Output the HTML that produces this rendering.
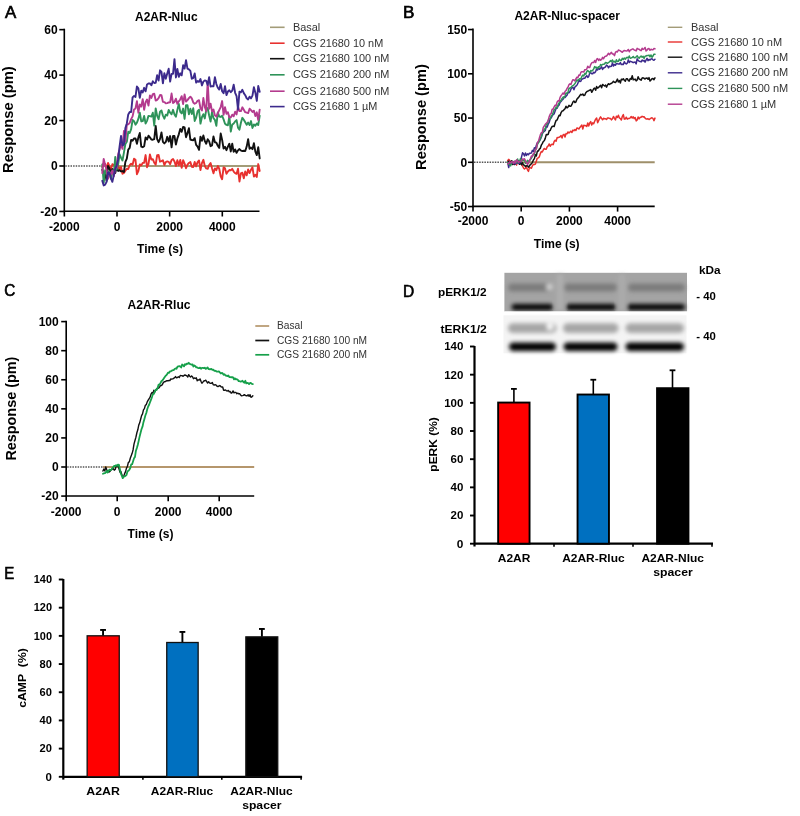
<!DOCTYPE html>
<html><head><meta charset="utf-8"><title>Figure</title>
<style>
html,body{margin:0;padding:0;background:#fff;}
body{width:800px;height:816px;position:relative;overflow:hidden;font-family:"Liberation Sans", sans-serif;}
</style></head><body>
<svg width="800" height="816" viewBox="0 0 800 816" style="position:absolute;left:0;top:0;will-change:transform">
<g font-family="Liberation Sans">
<text x="5.00" y="17.90" font-size="16" font-weight="normal" text-anchor="start" fill="#000" textLength="11.20" lengthAdjust="spacingAndGlyphs" stroke="#000" stroke-width="0.65">A</text>
<text x="166.30" y="20.50" font-size="12" font-weight="bold" text-anchor="middle" fill="#000" textLength="62.50" lengthAdjust="spacingAndGlyphs" >A2AR-Nluc</text>
<text x="12.70" y="119.60" font-size="14" font-weight="bold" text-anchor="middle" fill="#000" textLength="106.60" lengthAdjust="spacingAndGlyphs" transform="rotate(-90 12.70 119.60)" >Response (pm)</text>
<line x1="64.30" y1="28.70" x2="64.30" y2="212.10" stroke="#000" stroke-width="1.6" />
<line x1="63.50" y1="211.30" x2="259.50" y2="211.30" stroke="#000" stroke-width="1.6" />
<line x1="59.30" y1="29.65" x2="64.30" y2="29.65" stroke="#000" stroke-width="1.6" />
<text x="57.60" y="33.95" font-size="12" font-weight="bold" text-anchor="end" fill="#000" >60</text>
<line x1="59.30" y1="75.10" x2="64.30" y2="75.10" stroke="#000" stroke-width="1.6" />
<text x="57.60" y="79.40" font-size="12" font-weight="bold" text-anchor="end" fill="#000" >40</text>
<line x1="59.30" y1="120.55" x2="64.30" y2="120.55" stroke="#000" stroke-width="1.6" />
<text x="57.60" y="124.85" font-size="12" font-weight="bold" text-anchor="end" fill="#000" >20</text>
<line x1="59.30" y1="166.00" x2="64.30" y2="166.00" stroke="#000" stroke-width="1.6" />
<text x="57.60" y="170.30" font-size="12" font-weight="bold" text-anchor="end" fill="#000" >0</text>
<line x1="59.30" y1="211.45" x2="64.30" y2="211.45" stroke="#000" stroke-width="1.6" />
<text x="57.60" y="215.75" font-size="12" font-weight="bold" text-anchor="end" fill="#000" >-20</text>
<line x1="64.35" y1="211.30" x2="64.35" y2="216.50" stroke="#000" stroke-width="1.6" />
<text x="64.35" y="231.00" font-size="12" font-weight="bold" text-anchor="middle" fill="#000" >-2000</text>
<line x1="117.00" y1="211.30" x2="117.00" y2="216.50" stroke="#000" stroke-width="1.6" />
<text x="117.00" y="231.00" font-size="12" font-weight="bold" text-anchor="middle" fill="#000" >0</text>
<line x1="169.65" y1="211.30" x2="169.65" y2="216.50" stroke="#000" stroke-width="1.6" />
<text x="169.65" y="231.00" font-size="12" font-weight="bold" text-anchor="middle" fill="#000" >2000</text>
<line x1="222.30" y1="211.30" x2="222.30" y2="216.50" stroke="#000" stroke-width="1.6" />
<text x="222.30" y="231.00" font-size="12" font-weight="bold" text-anchor="middle" fill="#000" >4000</text>
<text x="160.00" y="253.00" font-size="12" font-weight="bold" text-anchor="middle" fill="#000" >Time (s)</text>
<line x1="65.30" y1="166.00" x2="102.26" y2="166.00" stroke="#555" stroke-width="1.4" stroke-dasharray="1.5,1.1"/>
<line x1="102.26" y1="166.00" x2="259.50" y2="166.00" stroke="#a39c78" stroke-width="1.8" />
<polyline points="102.26,166.94 103.70,163.54 105.15,163.88 106.59,168.97 108.04,162.93 109.48,166.33 110.92,169.30 112.37,164.15 113.81,165.03 115.26,166.13 116.70,167.99 118.14,165.50 119.59,169.63 121.03,166.96 122.48,173.80 123.92,172.88 125.37,170.68 126.81,168.72 128.25,168.94 129.70,165.25 131.14,163.70 132.59,164.79 134.03,158.73 135.48,159.84 136.92,174.20 138.36,171.03 139.81,164.40 141.25,165.36 142.70,162.90 144.14,162.71 145.59,155.06 147.03,167.22 148.47,164.08 149.92,154.41 151.36,159.49 152.81,159.12 154.25,162.76 155.70,164.64 157.14,155.14 158.58,155.02 160.03,161.68 161.47,161.08 162.92,160.21 164.36,165.08 165.81,162.01 167.25,161.44 168.69,161.85 170.14,164.12 171.58,160.05 173.03,159.08 174.47,161.46 175.91,166.04 177.36,160.23 178.80,165.17 180.25,160.01 181.69,167.73 183.14,160.17 184.58,163.65 186.02,168.27 187.47,164.54 188.91,162.99 190.36,162.02 191.80,166.75 193.25,167.10 194.69,161.93 196.13,166.39 197.58,162.10 199.02,160.45 200.47,170.12 201.91,163.15 203.36,159.77 204.80,166.03 206.24,168.38 207.69,168.81 209.13,165.02 210.58,163.04 212.02,168.33 213.47,173.22 214.91,168.42 216.35,170.21 217.80,166.00 219.24,168.74 220.69,176.29 222.13,179.23 223.58,167.35 225.02,168.39 226.46,173.74 227.91,171.52 229.35,170.04 230.80,170.20 232.24,168.88 233.68,171.52 235.13,173.13 236.57,173.82 238.02,168.74 239.46,181.51 240.91,173.35 242.35,172.69 243.79,178.32 245.24,171.53 246.68,175.33 248.13,169.49 249.57,173.11 251.02,169.74 252.46,167.32 253.90,176.57 255.35,174.82 256.79,176.99 258.24,164.07 259.68,170.97" fill="none" stroke="#e8312f" stroke-width="1.9" stroke-linejoin="round" stroke-linecap="round"/>
<polyline points="102.26,169.86 103.70,172.93 105.15,173.01 106.59,180.86 108.04,165.92 109.48,168.55 110.92,173.48 112.37,169.06 113.81,170.44 115.26,173.06 116.70,167.08 118.14,171.02 119.59,170.25 121.03,171.40 122.48,171.07 123.92,172.02 125.37,161.81 126.81,158.71 128.25,149.55 129.70,147.78 131.14,139.87 132.59,140.65 134.03,138.53 135.48,138.35 136.92,143.73 138.36,137.42 139.81,133.00 141.25,146.65 142.70,147.20 144.14,146.26 145.59,137.36 147.03,139.58 148.47,135.75 149.92,137.36 151.36,139.59 152.81,139.70 154.25,139.06 155.70,125.93 157.14,139.11 158.58,142.22 160.03,138.91 161.47,132.35 162.92,141.84 164.36,143.40 165.81,141.94 167.25,136.79 168.69,141.58 170.14,136.07 171.58,147.33 173.03,136.07 174.47,136.05 175.91,144.62 177.36,138.54 178.80,134.32 180.25,129.02 181.69,131.81 183.14,126.86 184.58,127.39 186.02,137.20 187.47,133.15 188.91,128.15 190.36,139.51 191.80,140.01 193.25,140.31 194.69,138.14 196.13,144.88 197.58,146.57 199.02,149.85 200.47,136.64 201.91,140.73 203.36,135.51 204.80,141.04 206.24,143.70 207.69,139.26 209.13,141.28 210.58,146.18 212.02,145.47 213.47,136.45 214.91,142.21 216.35,142.60 217.80,145.75 219.24,147.87 220.69,133.51 222.13,139.92 223.58,148.58 225.02,146.82 226.46,150.15 227.91,146.68 229.35,143.79 230.80,151.45 232.24,143.74 233.68,151.88 235.13,149.41 236.57,152.89 238.02,150.35 239.46,149.06 240.91,150.50 242.35,151.16 243.79,150.76 245.24,150.97 246.68,146.57 248.13,139.26 249.57,148.82 251.02,147.59 252.46,149.17 253.90,143.21 255.35,151.61 256.79,155.05 258.24,147.21 259.68,158.45" fill="none" stroke="#111111" stroke-width="1.9" stroke-linejoin="round" stroke-linecap="round"/>
<polyline points="102.26,164.47 103.70,182.79 105.15,170.15 106.59,173.70 108.04,172.75 109.48,171.43 110.92,178.81 112.37,171.49 113.81,174.08 115.26,156.95 116.70,169.62 118.14,164.28 119.59,154.26 121.03,157.73 122.48,160.47 123.92,152.65 125.37,143.97 126.81,141.81 128.25,131.80 129.70,132.97 131.14,129.15 132.59,120.02 134.03,121.21 135.48,124.65 136.92,122.61 138.36,118.92 139.81,112.60 141.25,121.44 142.70,121.16 144.14,115.90 145.59,123.45 147.03,120.84 148.47,115.87 149.92,116.10 151.36,116.61 152.81,112.75 154.25,125.57 155.70,108.33 157.14,115.83 158.58,119.20 160.03,111.72 161.47,110.46 162.92,115.62 164.36,118.67 165.81,114.64 167.25,115.43 168.69,109.94 170.14,112.71 171.58,114.28 173.03,109.83 174.47,114.52 175.91,116.76 177.36,109.89 178.80,103.85 180.25,111.76 181.69,113.39 183.14,108.54 184.58,118.93 186.02,105.16 187.47,105.22 188.91,114.34 190.36,108.63 191.80,114.07 193.25,108.28 194.69,120.94 196.13,117.51 197.58,111.23 199.02,109.75 200.47,123.67 201.91,117.23 203.36,114.21 204.80,118.40 206.24,109.76 207.69,108.04 209.13,115.53 210.58,121.62 212.02,111.94 213.47,118.13 214.91,119.94 216.35,125.84 217.80,112.34 219.24,116.54 220.69,116.93 222.13,115.76 223.58,119.38 225.02,123.83 226.46,124.88 227.91,125.21 229.35,116.41 230.80,131.56 232.24,124.62 233.68,123.58 235.13,121.43 236.57,120.08 238.02,127.62 239.46,129.67 240.91,122.70 242.35,117.80 243.79,119.82 245.24,122.33 246.68,124.81 248.13,122.62 249.57,125.12 251.02,121.08 252.46,127.97 253.90,124.48 255.35,125.78 256.79,123.41 258.24,125.01 259.68,115.80" fill="none" stroke="#2e9359" stroke-width="1.9" stroke-linejoin="round" stroke-linecap="round"/>
<polyline points="102.26,173.06 103.70,158.86 105.15,165.08 106.59,169.44 108.04,178.80 109.48,172.62 110.92,174.18 112.37,170.36 113.81,176.32 115.26,168.34 116.70,167.54 118.14,154.38 119.59,149.40 121.03,143.88 122.48,148.87 123.92,131.00 125.37,141.57 126.81,124.39 128.25,124.39 129.70,122.87 131.14,119.17 132.59,116.39 134.03,109.48 135.48,108.54 136.92,101.12 138.36,112.69 139.81,104.41 141.25,106.62 142.70,99.16 144.14,109.75 145.59,102.30 147.03,99.56 148.47,105.51 149.92,95.37 151.36,97.89 152.81,94.09 154.25,93.68 155.70,100.57 157.14,99.81 158.58,98.12 160.03,95.04 161.47,95.24 162.92,101.87 164.36,102.07 165.81,103.40 167.25,103.18 168.69,102.44 170.14,102.32 171.58,93.53 173.03,103.11 174.47,101.95 175.91,98.74 177.36,103.87 178.80,101.29 180.25,99.49 181.69,96.22 183.14,104.17 184.58,94.36 186.02,101.60 187.47,100.16 188.91,98.11 190.36,96.64 191.80,98.44 193.25,102.44 194.69,103.75 196.13,103.00 197.58,100.82 199.02,100.25 200.47,108.29 201.91,110.52 203.36,98.06 204.80,106.89 206.24,111.28 207.69,81.65 209.13,108.71 210.58,103.69 212.02,111.35 213.47,109.46 214.91,115.37 216.35,116.55 217.80,113.27 219.24,110.12 220.69,107.06 222.13,101.09 223.58,114.78 225.02,107.22 226.46,113.77 227.91,112.28 229.35,117.41 230.80,117.40 232.24,114.69 233.68,116.30 235.13,111.70 236.57,114.40 238.02,106.86 239.46,111.10 240.91,111.05 242.35,107.29 243.79,109.77 245.24,112.20 246.68,112.69 248.13,113.08 249.57,108.74 251.02,110.15 252.46,112.05 253.90,110.66 255.35,116.13 256.79,112.33 258.24,120.04 259.68,109.66" fill="none" stroke="#b43b8e" stroke-width="1.9" stroke-linejoin="round" stroke-linecap="round"/>
<polyline points="102.26,180.83 103.70,185.42 105.15,184.61 106.59,181.84 108.04,172.52 109.48,172.99 110.92,178.35 112.37,181.84 113.81,175.09 115.26,168.77 116.70,165.35 118.14,159.69 119.59,146.34 121.03,135.97 122.48,145.57 123.92,144.57 125.37,128.10 126.81,123.41 128.25,114.45 129.70,112.03 131.14,112.00 132.59,97.37 134.03,96.05 135.48,96.95 136.92,86.45 138.36,88.38 139.81,97.84 141.25,90.64 142.70,92.53 144.14,87.79 145.59,91.36 147.03,84.45 148.47,83.46 149.92,83.35 151.36,85.31 152.81,81.25 154.25,83.00 155.70,82.89 157.14,75.14 158.58,80.54 160.03,70.33 161.47,71.93 162.92,83.29 164.36,73.13 165.81,78.70 167.25,73.44 168.69,68.77 170.14,81.56 171.58,73.83 173.03,73.77 174.47,59.08 175.91,77.46 177.36,69.01 178.80,76.79 180.25,73.32 181.69,75.36 183.14,65.18 184.58,68.63 186.02,60.24 187.47,68.57 188.91,69.29 190.36,70.92 191.80,78.77 193.25,78.05 194.69,73.52 196.13,82.67 197.58,81.06 199.02,81.87 200.47,79.06 201.91,85.41 203.36,81.61 204.80,80.35 206.24,80.86 207.69,84.94 209.13,77.24 210.58,86.62 212.02,86.10 213.47,86.35 214.91,77.27 216.35,84.06 217.80,87.76 219.24,89.53 220.69,83.87 222.13,91.30 223.58,93.30 225.02,86.22 226.46,95.09 227.91,91.56 229.35,90.27 230.80,92.24 232.24,90.63 233.68,84.69 235.13,92.78 236.57,96.06 238.02,109.44 239.46,91.66 240.91,92.38 242.35,89.79 243.79,93.14 245.24,95.20 246.68,98.25 248.13,99.38 249.57,96.70 251.02,98.38 252.46,95.65 253.90,87.22 255.35,92.70 256.79,100.92 258.24,85.97 259.68,91.78" fill="none" stroke="#3c2a8c" stroke-width="1.9" stroke-linejoin="round" stroke-linecap="round"/>
<line x1="270.00" y1="27.30" x2="284.60" y2="27.30" stroke="#a39c78" stroke-width="1.6" />
<text x="293.00" y="30.80" font-size="10.9" font-weight="normal" text-anchor="start" fill="#333" >Basal</text>
<line x1="270.00" y1="43.20" x2="284.60" y2="43.20" stroke="#e8312f" stroke-width="1.6" />
<text x="293.00" y="46.70" font-size="10.9" font-weight="normal" text-anchor="start" fill="#333" >CGS 21680 10 nM</text>
<line x1="270.00" y1="58.70" x2="284.60" y2="58.70" stroke="#111111" stroke-width="1.6" />
<text x="293.00" y="62.20" font-size="10.9" font-weight="normal" text-anchor="start" fill="#333" >CGS 21680 100 nM</text>
<line x1="270.00" y1="74.80" x2="284.60" y2="74.80" stroke="#2e9359" stroke-width="1.6" />
<text x="293.00" y="78.30" font-size="10.9" font-weight="normal" text-anchor="start" fill="#333" >CGS 21680 200 nM</text>
<line x1="270.00" y1="91.20" x2="284.60" y2="91.20" stroke="#b43b8e" stroke-width="1.6" />
<text x="293.00" y="94.70" font-size="10.9" font-weight="normal" text-anchor="start" fill="#333" >CGS 21680 500 nM</text>
<line x1="270.00" y1="106.60" x2="284.60" y2="106.60" stroke="#3c2a8c" stroke-width="1.6" />
<text x="293.00" y="110.10" font-size="10.9" font-weight="normal" text-anchor="start" fill="#333" >CGS 21680 1 &#181;M</text>
<text x="403.00" y="17.80" font-size="16" font-weight="normal" text-anchor="start" fill="#000" textLength="11.40" lengthAdjust="spacingAndGlyphs" stroke="#000" stroke-width="0.65">B</text>
<text x="567.20" y="20.00" font-size="12" font-weight="bold" text-anchor="middle" fill="#000" textLength="105.60" lengthAdjust="spacingAndGlyphs" >A2AR-Nluc-spacer</text>
<text x="426.50" y="117.05" font-size="13.8" font-weight="bold" text-anchor="middle" fill="#000" textLength="105.70" lengthAdjust="spacingAndGlyphs" transform="rotate(-90 426.50 117.05)" >Response (pm)</text>
<line x1="473.00" y1="28.50" x2="473.00" y2="207.20" stroke="#000" stroke-width="1.6" />
<line x1="472.20" y1="206.40" x2="654.70" y2="206.40" stroke="#000" stroke-width="1.6" />
<line x1="468.00" y1="29.55" x2="473.00" y2="29.55" stroke="#000" stroke-width="1.6" />
<text x="467.20" y="33.85" font-size="12" font-weight="bold" text-anchor="end" fill="#000" >150</text>
<line x1="468.00" y1="73.80" x2="473.00" y2="73.80" stroke="#000" stroke-width="1.6" />
<text x="467.20" y="78.10" font-size="12" font-weight="bold" text-anchor="end" fill="#000" >100</text>
<line x1="468.00" y1="118.05" x2="473.00" y2="118.05" stroke="#000" stroke-width="1.6" />
<text x="467.20" y="122.35" font-size="12" font-weight="bold" text-anchor="end" fill="#000" >50</text>
<line x1="468.00" y1="162.30" x2="473.00" y2="162.30" stroke="#000" stroke-width="1.6" />
<text x="467.20" y="166.60" font-size="12" font-weight="bold" text-anchor="end" fill="#000" >0</text>
<line x1="468.00" y1="206.55" x2="473.00" y2="206.55" stroke="#000" stroke-width="1.6" />
<text x="467.20" y="210.85" font-size="12" font-weight="bold" text-anchor="end" fill="#000" >-50</text>
<line x1="473.00" y1="206.40" x2="473.00" y2="211.60" stroke="#000" stroke-width="1.6" />
<text x="473.00" y="225.20" font-size="12" font-weight="bold" text-anchor="middle" fill="#000" >-2000</text>
<line x1="521.20" y1="206.40" x2="521.20" y2="211.60" stroke="#000" stroke-width="1.6" />
<text x="521.20" y="225.20" font-size="12" font-weight="bold" text-anchor="middle" fill="#000" >0</text>
<line x1="569.40" y1="206.40" x2="569.40" y2="211.60" stroke="#000" stroke-width="1.6" />
<text x="569.40" y="225.20" font-size="12" font-weight="bold" text-anchor="middle" fill="#000" >2000</text>
<line x1="617.60" y1="206.40" x2="617.60" y2="211.60" stroke="#000" stroke-width="1.6" />
<text x="617.60" y="225.20" font-size="12" font-weight="bold" text-anchor="middle" fill="#000" >4000</text>
<text x="556.70" y="247.50" font-size="12" font-weight="bold" text-anchor="middle" fill="#000" >Time (s)</text>
<line x1="474.00" y1="162.30" x2="507.70" y2="162.30" stroke="#555" stroke-width="1.4" stroke-dasharray="1.5,1.1"/>
<line x1="507.70" y1="162.30" x2="654.70" y2="162.30" stroke="#9e8f6a" stroke-width="1.9" />
<polyline points="507.70,160.48 508.69,159.38 509.68,160.22 510.67,163.05 511.66,163.01 512.65,163.56 513.63,162.35 514.62,163.14 515.61,161.89 516.60,165.15 517.59,160.44 518.57,162.47 519.56,161.68 520.55,163.13 521.54,164.56 522.53,165.98 523.52,168.04 524.50,168.99 525.49,168.20 526.48,167.04 527.47,169.83 528.46,171.36 529.45,167.61 530.43,167.82 531.42,168.27 532.41,165.72 533.40,164.41 534.39,164.52 535.38,164.06 536.36,160.98 537.35,158.11 538.34,157.88 539.33,156.83 540.32,153.60 541.30,151.52 542.29,151.99 543.28,149.99 544.27,148.44 545.26,149.22 546.25,149.14 547.23,146.72 548.22,145.97 549.21,143.95 550.20,146.25 551.19,144.69 552.18,144.20 553.16,144.67 554.15,141.47 555.14,140.21 556.13,141.17 557.12,137.62 558.11,137.64 559.09,137.18 560.08,136.81 561.07,135.53 562.06,138.02 563.05,134.89 564.03,134.37 565.02,136.97 566.01,133.62 567.00,133.86 567.99,131.95 568.98,133.03 569.96,132.03 570.95,131.18 571.94,132.44 572.93,130.12 573.92,130.69 574.91,129.53 575.89,130.52 576.88,128.02 577.87,128.30 578.86,128.97 579.85,127.46 580.84,126.17 581.82,125.01 582.81,129.03 583.80,125.31 584.79,125.41 585.78,125.70 586.76,126.46 587.75,123.00 588.74,125.89 589.73,123.03 590.72,121.62 591.71,125.04 592.69,122.88 593.68,123.78 594.67,121.28 595.66,119.16 596.65,118.05 597.64,122.66 598.62,120.63 599.61,118.49 600.60,116.90 601.59,118.31 602.58,119.79 603.57,118.33 604.55,118.68 605.54,118.85 606.53,119.48 607.52,117.92 608.51,117.96 609.49,118.41 610.48,118.51 611.47,119.85 612.46,118.72 613.45,116.45 614.44,118.30 615.42,119.96 616.41,116.28 617.40,117.35 618.39,115.25 619.38,117.97 620.37,118.66 621.35,119.97 622.34,116.29 623.33,114.64 624.32,119.14 625.31,118.91 626.30,117.26 627.28,119.15 628.27,118.41 629.26,118.51 630.25,117.80 631.24,116.60 632.22,118.02 633.21,116.83 634.20,118.61 635.19,117.61 636.18,120.89 637.17,119.97 638.15,116.99 639.14,118.83 640.13,117.28 641.12,117.33 642.11,116.29 643.10,116.97 644.08,116.70 645.07,118.20 646.06,118.98 647.05,119.02 648.04,118.70 649.03,119.55 650.01,118.78 651.00,118.17 651.99,117.72 652.98,118.50 653.97,120.60 654.96,118.15" fill="none" stroke="#e8312f" stroke-width="1.5" stroke-linejoin="round" stroke-linecap="round"/>
<polyline points="507.70,162.31 508.69,161.14 509.68,161.66 510.67,161.82 511.66,160.85 512.65,164.49 513.63,163.91 514.62,164.58 515.61,162.72 516.60,160.98 517.59,161.88 518.57,160.88 519.56,164.35 520.55,162.53 521.54,164.75 522.53,162.69 523.52,165.06 524.50,165.19 525.49,166.53 526.48,165.79 527.47,165.82 528.46,167.12 529.45,166.10 530.43,164.41 531.42,163.81 532.41,162.32 533.40,160.00 534.39,158.62 535.38,154.83 536.36,155.91 537.35,151.09 538.34,151.07 539.33,149.16 540.32,148.34 541.30,145.19 542.29,143.68 543.28,141.50 544.27,140.77 545.26,138.36 546.25,134.59 547.23,134.70 548.22,134.29 549.21,130.76 550.20,130.48 551.19,128.04 552.18,126.47 553.16,126.17 554.15,126.54 555.14,123.04 556.13,120.38 557.12,119.99 558.11,117.43 559.09,115.22 560.08,115.74 561.07,112.55 562.06,111.06 563.05,110.74 564.03,109.63 565.02,108.72 566.01,106.29 567.00,107.85 567.99,107.08 568.98,105.34 569.96,106.27 570.95,106.16 571.94,104.42 572.93,101.96 573.92,100.93 574.91,102.51 575.89,102.03 576.88,99.18 577.87,98.12 578.86,97.04 579.85,95.53 580.84,94.30 581.82,94.99 582.81,93.97 583.80,95.54 584.79,95.10 585.78,92.81 586.76,91.73 587.75,91.11 588.74,90.74 589.73,90.07 590.72,89.60 591.71,92.34 592.69,90.64 593.68,88.73 594.67,88.12 595.66,90.30 596.65,86.54 597.64,88.10 598.62,87.41 599.61,86.34 600.60,85.32 601.59,87.71 602.58,84.42 603.57,85.26 604.55,86.02 605.54,85.12 606.53,87.19 607.52,85.00 608.51,83.68 609.49,84.49 610.48,83.73 611.47,83.22 612.46,82.68 613.45,81.25 614.44,82.33 615.42,82.42 616.41,81.22 617.40,79.11 618.39,81.90 619.38,80.63 620.37,83.01 621.35,79.18 622.34,79.83 623.33,78.78 624.32,80.30 625.31,81.31 626.30,78.72 627.28,78.67 628.27,80.47 629.26,81.02 630.25,78.53 631.24,79.27 632.22,75.78 633.21,79.75 634.20,79.61 635.19,79.05 636.18,80.94 637.17,79.95 638.15,76.78 639.14,78.94 640.13,79.50 641.12,80.28 642.11,77.96 643.10,77.82 644.08,78.29 645.07,79.05 646.06,78.16 647.05,78.03 648.04,79.31 649.03,77.66 650.01,81.02 651.00,79.96 651.99,78.71 652.98,78.43 653.97,79.70 654.96,77.82" fill="none" stroke="#111111" stroke-width="1.5" stroke-linejoin="round" stroke-linecap="round"/>
<polyline points="507.70,162.48 508.69,167.57 509.68,163.16 510.67,163.97 511.66,162.52 512.65,163.39 513.63,161.73 514.62,163.53 515.61,164.02 516.60,162.75 517.59,162.81 518.57,163.56 519.56,163.34 520.55,162.22 521.54,156.89 522.53,152.84 523.52,153.74 524.50,156.03 525.49,153.05 526.48,155.46 527.47,153.80 528.46,154.78 529.45,153.16 530.43,153.13 531.42,153.02 532.41,150.37 533.40,151.54 534.39,147.79 535.38,148.97 536.36,145.30 537.35,142.79 538.34,141.94 539.33,140.82 540.32,139.55 541.30,137.18 542.29,133.79 543.28,132.06 544.27,131.38 545.26,130.52 546.25,126.57 547.23,126.92 548.22,124.04 549.21,122.35 550.20,118.90 551.19,117.81 552.18,115.93 553.16,114.50 554.15,113.88 555.14,110.95 556.13,108.39 557.12,108.30 558.11,105.95 559.09,105.12 560.08,102.38 561.07,101.50 562.06,100.01 563.05,99.30 564.03,96.65 565.02,97.51 566.01,96.21 567.00,95.21 567.99,92.67 568.98,92.71 569.96,91.61 570.95,89.16 571.94,87.70 572.93,87.33 573.92,89.79 574.91,86.95 575.89,86.08 576.88,85.23 577.87,83.38 578.86,80.02 579.85,81.50 580.84,81.23 581.82,78.98 582.81,78.92 583.80,78.14 584.79,78.27 585.78,76.82 586.76,75.63 587.75,77.40 588.74,76.36 589.73,72.99 590.72,72.74 591.71,73.67 592.69,73.70 593.68,72.31 594.67,72.87 595.66,71.46 596.65,68.84 597.64,69.94 598.62,68.33 599.61,69.30 600.60,68.16 601.59,66.77 602.58,69.37 603.57,68.03 604.55,67.53 605.54,66.78 606.53,65.14 607.52,65.77 608.51,67.80 609.49,66.20 610.48,66.57 611.47,66.31 612.46,62.89 613.45,65.97 614.44,64.44 615.42,65.29 616.41,63.46 617.40,63.85 618.39,63.93 619.38,63.99 620.37,62.55 621.35,64.59 622.34,64.22 623.33,64.48 624.32,61.72 625.31,63.29 626.30,63.92 627.28,63.11 628.27,59.86 629.26,62.47 630.25,61.33 631.24,61.63 632.22,62.04 633.21,62.66 634.20,62.17 635.19,62.09 636.18,63.96 637.17,58.76 638.15,60.42 639.14,61.18 640.13,61.41 641.12,61.93 642.11,59.98 643.10,61.08 644.08,60.27 645.07,62.15 646.06,60.17 647.05,58.35 648.04,60.67 649.03,59.41 650.01,60.12 651.00,58.88 651.99,58.82 652.98,59.78 653.97,60.34 654.96,59.34" fill="none" stroke="#3c2a8c" stroke-width="1.5" stroke-linejoin="round" stroke-linecap="round"/>
<polyline points="507.70,162.45 508.69,164.09 509.68,164.58 510.67,165.87 511.66,163.00 512.65,161.16 513.63,162.31 514.62,161.68 515.61,161.01 516.60,162.92 517.59,159.04 518.57,162.67 519.56,161.22 520.55,158.58 521.54,161.29 522.53,160.32 523.52,160.26 524.50,159.95 525.49,163.29 526.48,162.44 527.47,160.32 528.46,161.17 529.45,160.92 530.43,159.55 531.42,158.06 532.41,156.41 533.40,154.02 534.39,154.46 535.38,149.64 536.36,148.51 537.35,144.50 538.34,142.89 539.33,141.46 540.32,138.00 541.30,136.92 542.29,132.78 543.28,131.89 544.27,128.96 545.26,129.05 546.25,124.15 547.23,124.20 548.22,120.43 549.21,118.98 550.20,119.09 551.19,115.94 552.18,115.23 553.16,112.59 554.15,109.87 555.14,109.02 556.13,106.99 557.12,107.73 558.11,104.64 559.09,102.84 560.08,100.52 561.07,100.97 562.06,98.35 563.05,97.14 564.03,97.85 565.02,95.98 566.01,93.04 567.00,93.40 567.99,92.09 568.98,88.48 569.96,87.97 570.95,87.53 571.94,86.17 572.93,85.71 573.92,84.85 574.91,83.77 575.89,81.88 576.88,79.89 577.87,80.79 578.86,79.37 579.85,78.67 580.84,78.96 581.82,76.54 582.81,75.07 583.80,76.07 584.79,73.48 585.78,74.15 586.76,71.50 587.75,70.62 588.74,71.52 589.73,72.73 590.72,70.47 591.71,71.07 592.69,70.48 593.68,68.84 594.67,66.62 595.66,67.65 596.65,67.28 597.64,68.51 598.62,66.68 599.61,67.01 600.60,64.46 601.59,65.26 602.58,64.45 603.57,64.13 604.55,64.03 605.54,62.52 606.53,62.73 607.52,63.30 608.51,62.50 609.49,61.79 610.48,60.63 611.47,61.66 612.46,59.97 613.45,61.90 614.44,61.31 615.42,62.43 616.41,59.77 617.40,61.54 618.39,61.33 619.38,59.13 620.37,60.38 621.35,60.41 622.34,58.39 623.33,59.39 624.32,58.01 625.31,59.21 626.30,57.80 627.28,57.22 628.27,58.07 629.26,56.04 630.25,58.23 631.24,57.93 632.22,57.52 633.21,56.43 634.20,57.70 635.19,57.75 636.18,56.92 637.17,55.75 638.15,57.42 639.14,58.23 640.13,56.91 641.12,56.00 642.11,57.14 643.10,56.33 644.08,58.34 645.07,56.23 646.06,56.04 647.05,55.38 648.04,55.61 649.03,55.02 650.01,56.79 651.00,54.93 651.99,57.28 652.98,56.06 653.97,54.14 654.96,54.31" fill="none" stroke="#2e9359" stroke-width="1.5" stroke-linejoin="round" stroke-linecap="round"/>
<polyline points="507.70,163.82 508.69,163.29 509.68,161.88 510.67,162.86 511.66,161.74 512.65,161.44 513.63,163.83 514.62,161.14 515.61,162.73 516.60,159.75 517.59,161.08 518.57,162.31 519.56,161.40 520.55,161.27 521.54,160.82 522.53,158.96 523.52,159.15 524.50,158.76 525.49,160.82 526.48,162.65 527.47,164.50 528.46,163.33 529.45,160.25 530.43,158.52 531.42,156.09 532.41,156.34 533.40,153.67 534.39,152.68 535.38,149.56 536.36,148.77 537.35,142.81 538.34,141.60 539.33,138.16 540.32,134.85 541.30,132.76 542.29,132.43 543.28,127.34 544.27,126.06 545.26,124.25 546.25,123.39 547.23,122.31 548.22,120.25 549.21,116.65 550.20,114.21 551.19,113.49 552.18,109.17 553.16,109.16 554.15,106.79 555.14,105.25 556.13,105.72 557.12,101.89 558.11,100.84 559.09,101.03 560.08,97.37 561.07,95.64 562.06,94.38 563.05,92.94 564.03,94.19 565.02,91.60 566.01,90.55 567.00,88.55 567.99,87.14 568.98,84.69 569.96,83.88 570.95,84.47 571.94,81.55 572.93,79.69 573.92,80.00 574.91,80.84 575.89,78.84 576.88,77.25 577.87,77.70 578.86,75.03 579.85,75.37 580.84,72.36 581.82,71.66 582.81,71.65 583.80,72.08 584.79,69.63 585.78,69.80 586.76,69.03 587.75,66.31 588.74,67.48 589.73,67.49 590.72,64.53 591.71,62.83 592.69,62.36 593.68,62.58 594.67,60.54 595.66,62.48 596.65,59.14 597.64,58.57 598.62,60.51 599.61,59.06 600.60,60.21 601.59,59.47 602.58,57.34 603.57,58.74 604.55,56.84 605.54,56.14 606.53,56.05 607.52,54.72 608.51,53.25 609.49,54.68 610.48,53.37 611.47,52.41 612.46,54.05 613.45,53.99 614.44,55.66 615.42,52.41 616.41,51.54 617.40,51.99 618.39,50.01 619.38,50.41 620.37,50.96 621.35,51.66 622.34,52.34 623.33,51.08 624.32,50.46 625.31,50.86 626.30,50.90 627.28,50.78 628.27,49.42 629.26,51.77 630.25,50.19 631.24,49.74 632.22,49.04 633.21,49.00 634.20,49.96 635.19,50.30 636.18,50.89 637.17,48.37 638.15,48.95 639.14,49.32 640.13,50.28 641.12,50.67 642.11,48.19 643.10,49.41 644.08,48.86 645.07,47.42 646.06,50.93 647.05,50.09 648.04,48.84 649.03,48.53 650.01,50.27 651.00,49.21 651.99,49.73 652.98,49.67 653.97,48.61 654.96,48.78" fill="none" stroke="#b43b8e" stroke-width="1.5" stroke-linejoin="round" stroke-linecap="round"/>
<line x1="667.80" y1="27.30" x2="682.30" y2="27.30" stroke="#a39c78" stroke-width="1.4" />
<text x="691.00" y="30.80" font-size="11.0" font-weight="normal" text-anchor="start" fill="#333" >Basal</text>
<line x1="667.80" y1="42.00" x2="682.30" y2="42.00" stroke="#e8312f" stroke-width="1.4" />
<text x="691.00" y="45.50" font-size="11.0" font-weight="normal" text-anchor="start" fill="#333" >CGS 21680 10 nM</text>
<line x1="667.80" y1="57.20" x2="682.30" y2="57.20" stroke="#111111" stroke-width="1.4" />
<text x="691.00" y="60.70" font-size="11.0" font-weight="normal" text-anchor="start" fill="#333" >CGS 21680 100 nM</text>
<line x1="667.80" y1="72.80" x2="682.30" y2="72.80" stroke="#3c2a8c" stroke-width="1.4" />
<text x="691.00" y="76.30" font-size="11.0" font-weight="normal" text-anchor="start" fill="#333" >CGS 21680 200 nM</text>
<line x1="667.80" y1="88.40" x2="682.30" y2="88.40" stroke="#2e9359" stroke-width="1.4" />
<text x="691.00" y="91.90" font-size="11.0" font-weight="normal" text-anchor="start" fill="#333" >CGS 21680 500 nM</text>
<line x1="667.80" y1="104.20" x2="682.30" y2="104.20" stroke="#b43b8e" stroke-width="1.4" />
<text x="691.00" y="107.70" font-size="11.0" font-weight="normal" text-anchor="start" fill="#333" >CGS 21680 1 &#181;M</text>
<text x="4.20" y="296.40" font-size="16" font-weight="normal" text-anchor="start" fill="#000" textLength="11.00" lengthAdjust="spacingAndGlyphs" stroke="#000" stroke-width="0.65">C</text>
<text x="159.00" y="309.30" font-size="12" font-weight="bold" text-anchor="middle" fill="#000" textLength="63.00" lengthAdjust="spacingAndGlyphs" >A2AR-Rluc</text>
<text x="16.00" y="408.65" font-size="13.8" font-weight="bold" text-anchor="middle" fill="#000" textLength="103.90" lengthAdjust="spacingAndGlyphs" transform="rotate(-90 16.00 408.65)" >Response (pm)</text>
<line x1="66.20" y1="320.70" x2="66.20" y2="496.80" stroke="#000" stroke-width="1.6" />
<line x1="65.40" y1="496.00" x2="254.20" y2="496.00" stroke="#000" stroke-width="1.6" />
<line x1="61.20" y1="321.60" x2="66.20" y2="321.60" stroke="#000" stroke-width="1.6" />
<text x="58.70" y="325.90" font-size="12" font-weight="bold" text-anchor="end" fill="#000" >100</text>
<line x1="61.20" y1="350.68" x2="66.20" y2="350.68" stroke="#000" stroke-width="1.6" />
<text x="58.70" y="354.98" font-size="12" font-weight="bold" text-anchor="end" fill="#000" >80</text>
<line x1="61.20" y1="379.76" x2="66.20" y2="379.76" stroke="#000" stroke-width="1.6" />
<text x="58.70" y="384.06" font-size="12" font-weight="bold" text-anchor="end" fill="#000" >60</text>
<line x1="61.20" y1="408.84" x2="66.20" y2="408.84" stroke="#000" stroke-width="1.6" />
<text x="58.70" y="413.14" font-size="12" font-weight="bold" text-anchor="end" fill="#000" >40</text>
<line x1="61.20" y1="437.92" x2="66.20" y2="437.92" stroke="#000" stroke-width="1.6" />
<text x="58.70" y="442.22" font-size="12" font-weight="bold" text-anchor="end" fill="#000" >20</text>
<line x1="61.20" y1="467.00" x2="66.20" y2="467.00" stroke="#000" stroke-width="1.6" />
<text x="58.70" y="471.30" font-size="12" font-weight="bold" text-anchor="end" fill="#000" >0</text>
<line x1="61.20" y1="496.08" x2="66.20" y2="496.08" stroke="#000" stroke-width="1.6" />
<text x="58.70" y="500.38" font-size="12" font-weight="bold" text-anchor="end" fill="#000" >-20</text>
<line x1="66.20" y1="496.00" x2="66.20" y2="501.20" stroke="#000" stroke-width="1.6" />
<text x="66.20" y="515.50" font-size="12" font-weight="bold" text-anchor="middle" fill="#000" >-2000</text>
<line x1="117.20" y1="496.00" x2="117.20" y2="501.20" stroke="#000" stroke-width="1.6" />
<text x="117.20" y="515.50" font-size="12" font-weight="bold" text-anchor="middle" fill="#000" >0</text>
<line x1="168.20" y1="496.00" x2="168.20" y2="501.20" stroke="#000" stroke-width="1.6" />
<text x="168.20" y="515.50" font-size="12" font-weight="bold" text-anchor="middle" fill="#000" >2000</text>
<line x1="219.20" y1="496.00" x2="219.20" y2="501.20" stroke="#000" stroke-width="1.6" />
<text x="219.20" y="515.50" font-size="12" font-weight="bold" text-anchor="middle" fill="#000" >4000</text>
<text x="150.50" y="537.80" font-size="12" font-weight="bold" text-anchor="middle" fill="#000" >Time (s)</text>
<line x1="67.20" y1="467.00" x2="102.92" y2="467.00" stroke="#555" stroke-width="1.4" stroke-dasharray="1.5,1.1"/>
<line x1="102.92" y1="467.00" x2="254.20" y2="467.00" stroke="#b5966c" stroke-width="1.8" />
<polyline points="102.92,471.05 103.86,469.07 104.81,470.97 105.75,467.01 106.69,469.60 107.64,471.33 108.58,471.95 109.52,471.83 110.46,470.72 111.41,469.44 112.35,469.26 113.29,468.67 114.24,470.17 115.18,469.52 116.12,466.26 117.07,466.23 118.01,466.32 118.95,468.61 119.89,471.99 120.84,471.41 121.78,474.36 122.72,477.33 123.67,476.52 124.61,473.65 125.55,471.63 126.50,468.18 127.44,466.28 128.38,462.44 129.32,461.92 130.27,458.26 131.21,455.67 132.15,453.34 133.10,449.72 134.04,443.92 134.98,440.45 135.93,437.15 136.87,432.77 137.81,429.81 138.75,425.12 139.70,422.83 140.64,419.23 141.58,415.63 142.53,413.89 143.47,409.94 144.41,408.68 145.36,405.28 146.30,404.60 147.24,401.89 148.18,400.12 149.13,398.74 150.07,397.19 151.01,394.18 151.96,392.49 152.90,393.18 153.84,390.29 154.79,392.01 155.73,390.34 156.67,389.04 157.62,387.99 158.56,388.19 159.50,387.10 160.44,385.60 161.39,385.46 162.33,384.61 163.27,382.67 164.22,381.63 165.16,381.69 166.10,381.04 167.05,380.75 167.99,380.81 168.93,380.54 169.87,380.67 170.82,378.88 171.76,379.20 172.70,378.92 173.65,378.30 174.59,377.69 175.53,376.59 176.48,377.75 177.42,377.54 178.36,376.69 179.30,377.46 180.25,375.48 181.19,375.65 182.13,375.71 183.08,376.29 184.02,375.41 184.96,375.00 185.91,375.35 186.85,375.89 187.79,376.98 188.73,374.63 189.68,376.17 190.62,377.00 191.56,375.89 192.51,376.77 193.45,378.71 194.39,377.96 195.34,378.51 196.28,377.82 197.22,380.74 198.16,379.82 199.11,379.97 200.05,378.88 200.99,381.33 201.94,383.22 202.88,382.13 203.82,380.96 204.77,380.75 205.71,380.22 206.65,381.65 207.60,382.97 208.54,381.76 209.48,382.81 210.42,383.25 211.37,383.33 212.31,382.50 213.25,384.67 214.20,385.06 215.14,384.65 216.08,385.08 217.03,386.17 217.97,386.65 218.91,385.99 219.85,385.58 220.80,386.56 221.74,387.01 222.68,386.95 223.63,390.20 224.57,390.22 225.51,389.94 226.46,390.80 227.40,390.99 228.34,390.39 229.28,391.89 230.23,391.48 231.17,393.20 232.11,392.59 233.06,390.89 234.00,392.86 234.94,392.42 235.89,392.41 236.83,393.78 237.77,393.17 238.71,393.81 239.66,393.70 240.60,395.02 241.54,395.88 242.49,395.67 243.43,395.41 244.37,394.62 245.32,395.42 246.26,395.74 247.20,395.71 248.14,394.75 249.09,396.36 250.03,394.70 250.97,397.24 251.92,396.84 252.86,395.74" fill="none" stroke="#111111" stroke-width="1.4" stroke-linejoin="round" stroke-linecap="round"/>
<polyline points="102.92,473.73 103.86,473.35 104.81,473.16 105.75,472.46 106.69,470.84 107.64,472.58 108.58,470.54 109.52,469.68 110.46,470.10 111.41,469.68 112.35,468.26 113.29,467.13 114.24,465.87 115.18,466.11 116.12,465.12 117.07,465.92 118.01,464.58 118.95,464.88 119.89,469.29 120.84,473.56 121.78,475.49 122.72,478.16 123.67,476.76 124.61,476.40 125.55,475.79 126.50,474.91 127.44,471.42 128.38,470.84 129.32,469.75 130.27,467.99 131.21,464.37 132.15,464.16 133.10,461.21 134.04,458.18 134.98,456.87 135.93,450.70 136.87,447.95 137.81,444.76 138.75,440.65 139.70,436.16 140.64,432.52 141.58,429.00 142.53,426.61 143.47,422.16 144.41,418.88 145.36,415.53 146.30,412.94 147.24,409.21 148.18,406.46 149.13,404.77 150.07,402.05 151.01,399.65 151.96,397.07 152.90,394.27 153.84,393.89 154.79,391.57 155.73,389.61 156.67,389.89 157.62,388.03 158.56,384.63 159.50,384.94 160.44,383.13 161.39,381.23 162.33,380.44 163.27,379.35 164.22,377.78 165.16,376.38 166.10,375.47 167.05,374.32 167.99,372.74 168.93,372.92 169.87,371.44 170.82,371.38 171.76,370.67 172.70,370.19 173.65,370.12 174.59,369.01 175.53,368.44 176.48,368.72 177.42,366.86 178.36,366.32 179.30,366.15 180.25,366.46 181.19,367.52 182.13,364.54 183.08,365.25 184.02,366.34 184.96,364.19 185.91,364.78 186.85,363.57 187.79,363.80 188.73,362.79 189.68,363.81 190.62,364.21 191.56,364.73 192.51,364.45 193.45,366.54 194.39,365.35 195.34,366.10 196.28,367.34 197.22,367.41 198.16,368.13 199.11,368.12 200.05,367.63 200.99,368.78 201.94,367.94 202.88,367.90 203.82,368.19 204.77,367.67 205.71,368.83 206.65,368.42 207.60,367.34 208.54,369.03 209.48,369.23 210.42,369.23 211.37,368.94 212.31,369.82 213.25,369.66 214.20,370.77 215.14,370.74 216.08,371.15 217.03,371.68 217.97,371.64 218.91,371.32 219.85,372.46 220.80,373.50 221.74,372.91 222.68,373.39 223.63,374.84 224.57,374.26 225.51,375.49 226.46,375.63 227.40,376.13 228.34,375.54 229.28,377.05 230.23,377.15 231.17,377.25 232.11,377.12 233.06,377.46 234.00,379.33 234.94,378.32 235.89,379.33 236.83,379.17 237.77,379.69 238.71,381.16 239.66,381.20 240.60,381.63 241.54,381.40 242.49,380.77 243.43,382.02 244.37,382.70 245.32,380.81 246.26,383.32 247.20,382.88 248.14,383.10 249.09,384.13 250.03,382.98 250.97,383.01 251.92,383.97 252.86,384.08" fill="none" stroke="#16a04a" stroke-width="1.8" stroke-linejoin="round" stroke-linecap="round"/>
<line x1="255.30" y1="326.00" x2="269.20" y2="326.00" stroke="#b5966c" stroke-width="1.7" />
<text x="277.00" y="329.40" font-size="10.2" font-weight="normal" text-anchor="start" fill="#333" >Basal</text>
<line x1="255.30" y1="340.50" x2="269.20" y2="340.50" stroke="#111111" stroke-width="1.7" />
<text x="277.00" y="343.90" font-size="10.2" font-weight="normal" text-anchor="start" fill="#333" >CGS 21680 100 nM</text>
<line x1="255.30" y1="354.80" x2="269.20" y2="354.80" stroke="#16a04a" stroke-width="1.7" />
<text x="277.00" y="358.20" font-size="10.2" font-weight="normal" text-anchor="start" fill="#333" >CGS 21680 200 nM</text>
<text x="403.00" y="296.60" font-size="16" font-weight="normal" text-anchor="start" fill="#000" textLength="11.20" lengthAdjust="spacingAndGlyphs" stroke="#000" stroke-width="0.65">D</text>
<text x="438.00" y="296.30" font-size="11.5" font-weight="bold" text-anchor="start" fill="#000" textLength="48.60" lengthAdjust="spacingAndGlyphs" >pERK1/2</text>
<text x="440.50" y="332.60" font-size="11.5" font-weight="bold" text-anchor="start" fill="#000" textLength="46.20" lengthAdjust="spacingAndGlyphs" >tERK1/2</text>
<text x="699.00" y="273.80" font-size="11.8" font-weight="bold" text-anchor="start" fill="#000" textLength="21.60" lengthAdjust="spacingAndGlyphs" >kDa</text>
<text x="696.30" y="299.90" font-size="11.5" font-weight="bold" text-anchor="start" fill="#000" textLength="19.60" lengthAdjust="spacingAndGlyphs" >- 40</text>
<text x="696.30" y="339.60" font-size="11.5" font-weight="bold" text-anchor="start" fill="#000" textLength="19.60" lengthAdjust="spacingAndGlyphs" >- 40</text>
<defs>
<filter id="b1" x="-20%" y="-50%" width="140%" height="200%"><feGaussianBlur stdDeviation="2.0"/></filter>
<filter id="b2" x="-20%" y="-50%" width="140%" height="200%"><feGaussianBlur stdDeviation="1.2"/></filter>
<filter id="b0" x="-10%" y="-10%" width="120%" height="120%"><feGaussianBlur stdDeviation="0.6"/></filter>
</defs>
<rect x="504.4" y="272.8" width="182.6" height="38.8" fill="#a4a4a4"/>
<g filter="url(#b1)">
<rect x="508" y="283.4" width="45" height="8.2" rx="4" fill="#7c7c7c"/>
<rect x="564" y="283.4" width="53" height="8.2" rx="4" fill="#7c7c7c"/>
<rect x="628" y="283.4" width="57" height="8.2" rx="4" fill="#7c7c7c"/>
<rect x="511.5" y="303.9" width="41.5" height="6.4" rx="3.2" fill="#000000"/>
<rect x="566" y="303.9" width="50" height="6.4" rx="3.2" fill="#000000"/>
<rect x="627" y="303.9" width="58" height="6.4" rx="3.2" fill="#000000"/>
<rect x="557" y="274" width="6" height="36" fill="#b4b4b4" opacity="0.7"/>
<rect x="619" y="274" width="6" height="36" fill="#b4b4b4" opacity="0.5"/>
<circle cx="549.5" cy="287" r="3.2" fill="#d6d6d6"/>
</g>
<rect x="504.4" y="311.4" width="183" height="3" fill="#fff"/>
<g filter="url(#b0)"><rect x="503.5" y="315.3" width="183" height="38" fill="#f4f4f4"/></g>
<g filter="url(#b1)">
<rect x="508" y="323.3" width="48.5" height="9.6" rx="4.6" fill="#a6a6a6"/>
<rect x="563" y="323.3" width="55.5" height="9.6" rx="4.6" fill="#a6a6a6"/>
<rect x="625.5" y="323.3" width="58.5" height="9.6" rx="4.6" fill="#a6a6a6"/>
<rect x="509" y="342.6" width="47" height="8.4" rx="4.2" fill="#000000"/>
<rect x="563.5" y="342.6" width="54.0" height="8.4" rx="4.2" fill="#000000"/>
<rect x="625.5" y="342.6" width="58.5" height="8.4" rx="4.2" fill="#000000"/>
<circle cx="550" cy="326.8" r="3.2" fill="#ffffff"/>
</g>
<line x1="474.50" y1="346.00" x2="474.50" y2="546.50" stroke="#000" stroke-width="2.2" />
<line x1="474.00" y1="543.70" x2="713.00" y2="543.70" stroke="#000" stroke-width="2.2" />
<line x1="470.00" y1="543.70" x2="474.50" y2="543.70" stroke="#000" stroke-width="1.9" />
<text x="463.40" y="547.60" font-size="11" font-weight="bold" text-anchor="end" fill="#000" textLength="6.60" lengthAdjust="spacingAndGlyphs" >0</text>
<line x1="470.00" y1="515.53" x2="474.50" y2="515.53" stroke="#000" stroke-width="1.9" />
<text x="463.40" y="519.43" font-size="11" font-weight="bold" text-anchor="end" fill="#000" textLength="12.80" lengthAdjust="spacingAndGlyphs" >20</text>
<line x1="470.00" y1="487.36" x2="474.50" y2="487.36" stroke="#000" stroke-width="1.9" />
<text x="463.40" y="491.26" font-size="11" font-weight="bold" text-anchor="end" fill="#000" textLength="12.80" lengthAdjust="spacingAndGlyphs" >40</text>
<line x1="470.00" y1="459.19" x2="474.50" y2="459.19" stroke="#000" stroke-width="1.9" />
<text x="463.40" y="463.09" font-size="11" font-weight="bold" text-anchor="end" fill="#000" textLength="12.80" lengthAdjust="spacingAndGlyphs" >60</text>
<line x1="470.00" y1="431.01" x2="474.50" y2="431.01" stroke="#000" stroke-width="1.9" />
<text x="463.40" y="434.91" font-size="11" font-weight="bold" text-anchor="end" fill="#000" textLength="12.80" lengthAdjust="spacingAndGlyphs" >80</text>
<line x1="470.00" y1="402.84" x2="474.50" y2="402.84" stroke="#000" stroke-width="1.9" />
<text x="463.40" y="406.74" font-size="11" font-weight="bold" text-anchor="end" fill="#000" textLength="19.20" lengthAdjust="spacingAndGlyphs" >100</text>
<line x1="470.00" y1="374.67" x2="474.50" y2="374.67" stroke="#000" stroke-width="1.9" />
<text x="463.40" y="378.57" font-size="11" font-weight="bold" text-anchor="end" fill="#000" textLength="19.20" lengthAdjust="spacingAndGlyphs" >120</text>
<line x1="470.00" y1="346.50" x2="474.50" y2="346.50" stroke="#000" stroke-width="1.9" />
<text x="463.40" y="350.40" font-size="11" font-weight="bold" text-anchor="end" fill="#000" textLength="19.20" lengthAdjust="spacingAndGlyphs" >140</text>
<line x1="554.00" y1="543.70" x2="554.00" y2="546.70" stroke="#000" stroke-width="1.6" />
<line x1="633.00" y1="543.70" x2="633.00" y2="546.70" stroke="#000" stroke-width="1.6" />
<line x1="712.00" y1="543.70" x2="712.00" y2="546.70" stroke="#000" stroke-width="1.6" />
<line x1="513.90" y1="402.56" x2="513.90" y2="388.90" stroke="#000" stroke-width="1.6" />
<line x1="511.00" y1="388.90" x2="516.80" y2="388.90" stroke="#000" stroke-width="1.8" />
<rect x="498.15" y="402.56" width="31.40" height="141.14" fill="#ff0000" stroke="#000" stroke-width="1.9"/>
<line x1="593.30" y1="394.53" x2="593.30" y2="379.74" stroke="#000" stroke-width="1.6" />
<line x1="590.40" y1="379.74" x2="596.20" y2="379.74" stroke="#000" stroke-width="1.8" />
<rect x="577.55" y="394.53" width="31.40" height="149.17" fill="#0070c0" stroke="#000" stroke-width="1.9"/>
<line x1="672.50" y1="388.19" x2="672.50" y2="370.30" stroke="#000" stroke-width="1.6" />
<line x1="669.60" y1="370.30" x2="675.40" y2="370.30" stroke="#000" stroke-width="1.8" />
<rect x="657.05" y="388.19" width="31.40" height="155.51" fill="#000000" stroke="#000" stroke-width="1.9"/>
<text x="514.10" y="561.80" font-size="11.3" font-weight="bold" text-anchor="middle" fill="#000" textLength="32.60" lengthAdjust="spacingAndGlyphs" >A2AR</text>
<text x="593.40" y="562.00" font-size="11.3" font-weight="bold" text-anchor="middle" fill="#000" textLength="62.40" lengthAdjust="spacingAndGlyphs" >A2AR-Rluc</text>
<text x="672.70" y="562.00" font-size="11.3" font-weight="bold" text-anchor="middle" fill="#000" textLength="62.60" lengthAdjust="spacingAndGlyphs" >A2AR-Nluc</text>
<text x="673.00" y="575.70" font-size="11.3" font-weight="bold" text-anchor="middle" fill="#000" textLength="39.50" lengthAdjust="spacingAndGlyphs" >spacer</text>
<text x="437.20" y="444.40" font-size="11.5" font-weight="bold" text-anchor="middle" fill="#000" textLength="54.50" lengthAdjust="spacingAndGlyphs" transform="rotate(-90 437.20 444.40)" >pERK (%)</text>
<text x="4.30" y="578.80" font-size="16" font-weight="normal" text-anchor="start" fill="#000" textLength="10.00" lengthAdjust="spacingAndGlyphs" stroke="#000" stroke-width="0.65">E</text>
<line x1="63.30" y1="579.00" x2="63.30" y2="779.60" stroke="#000" stroke-width="2.2" />
<line x1="62.80" y1="776.80" x2="302.10" y2="776.80" stroke="#000" stroke-width="2.2" />
<line x1="58.80" y1="776.80" x2="63.30" y2="776.80" stroke="#000" stroke-width="1.9" />
<text x="52.00" y="780.60" font-size="10.5" font-weight="bold" text-anchor="end" fill="#000" textLength="6.40" lengthAdjust="spacingAndGlyphs" >0</text>
<line x1="58.80" y1="748.61" x2="63.30" y2="748.61" stroke="#000" stroke-width="1.9" />
<text x="52.00" y="752.41" font-size="10.5" font-weight="bold" text-anchor="end" fill="#000" textLength="12.40" lengthAdjust="spacingAndGlyphs" >20</text>
<line x1="58.80" y1="720.43" x2="63.30" y2="720.43" stroke="#000" stroke-width="1.9" />
<text x="52.00" y="724.23" font-size="10.5" font-weight="bold" text-anchor="end" fill="#000" textLength="12.40" lengthAdjust="spacingAndGlyphs" >40</text>
<line x1="58.80" y1="692.24" x2="63.30" y2="692.24" stroke="#000" stroke-width="1.9" />
<text x="52.00" y="696.04" font-size="10.5" font-weight="bold" text-anchor="end" fill="#000" textLength="12.40" lengthAdjust="spacingAndGlyphs" >60</text>
<line x1="58.80" y1="664.06" x2="63.30" y2="664.06" stroke="#000" stroke-width="1.9" />
<text x="52.00" y="667.86" font-size="10.5" font-weight="bold" text-anchor="end" fill="#000" textLength="12.40" lengthAdjust="spacingAndGlyphs" >80</text>
<line x1="58.80" y1="635.87" x2="63.30" y2="635.87" stroke="#000" stroke-width="1.9" />
<text x="52.00" y="639.67" font-size="10.5" font-weight="bold" text-anchor="end" fill="#000" textLength="18.30" lengthAdjust="spacingAndGlyphs" >100</text>
<line x1="58.80" y1="607.69" x2="63.30" y2="607.69" stroke="#000" stroke-width="1.9" />
<text x="52.00" y="611.49" font-size="10.5" font-weight="bold" text-anchor="end" fill="#000" textLength="18.30" lengthAdjust="spacingAndGlyphs" >120</text>
<line x1="58.80" y1="579.50" x2="63.30" y2="579.50" stroke="#000" stroke-width="1.9" />
<text x="52.00" y="583.30" font-size="10.5" font-weight="bold" text-anchor="end" fill="#000" textLength="18.30" lengthAdjust="spacingAndGlyphs" >140</text>
<line x1="142.90" y1="776.80" x2="142.90" y2="779.80" stroke="#000" stroke-width="1.6" />
<line x1="221.80" y1="776.80" x2="221.80" y2="779.80" stroke="#000" stroke-width="1.6" />
<line x1="301.10" y1="776.80" x2="301.10" y2="779.80" stroke="#000" stroke-width="1.6" />
<line x1="103.05" y1="635.80" x2="103.05" y2="629.95" stroke="#000" stroke-width="1.9" />
<line x1="100.15" y1="629.95" x2="105.95" y2="629.95" stroke="#000" stroke-width="1.9" />
<rect x="87.15" y="635.80" width="32.10" height="141.00" fill="#ff0000" stroke="#111" stroke-width="1.3"/>
<line x1="182.40" y1="642.50" x2="182.40" y2="631.93" stroke="#000" stroke-width="1.9" />
<line x1="179.50" y1="631.93" x2="185.30" y2="631.93" stroke="#000" stroke-width="1.9" />
<rect x="166.75" y="642.50" width="31.40" height="134.30" fill="#0070c0" stroke="#111" stroke-width="1.3"/>
<line x1="261.90" y1="636.86" x2="261.90" y2="628.97" stroke="#000" stroke-width="1.9" />
<line x1="259.00" y1="628.97" x2="264.80" y2="628.97" stroke="#000" stroke-width="1.9" />
<rect x="245.85" y="636.86" width="31.90" height="139.94" fill="#000000" stroke="#111" stroke-width="1.3"/>
<text x="103.10" y="795.20" font-size="11.2" font-weight="bold" text-anchor="middle" fill="#000" textLength="33.60" lengthAdjust="spacingAndGlyphs" >A2AR</text>
<text x="182.00" y="795.20" font-size="11.2" font-weight="bold" text-anchor="middle" fill="#000" textLength="62.50" lengthAdjust="spacingAndGlyphs" >A2AR-Rluc</text>
<text x="261.50" y="795.20" font-size="11.2" font-weight="bold" text-anchor="middle" fill="#000" textLength="62.50" lengthAdjust="spacingAndGlyphs" >A2AR-Nluc</text>
<text x="261.80" y="808.80" font-size="11.2" font-weight="bold" text-anchor="middle" fill="#000" textLength="39.20" lengthAdjust="spacingAndGlyphs" >spacer</text>
<text x="26.30" y="678.00" font-size="11.3" font-weight="bold" text-anchor="middle" fill="#000" textLength="59.50" lengthAdjust="spacingAndGlyphs" transform="rotate(-90 26.30 678.00)" >cAMP&#160; (%)</text>
</g></svg>
</body></html>
